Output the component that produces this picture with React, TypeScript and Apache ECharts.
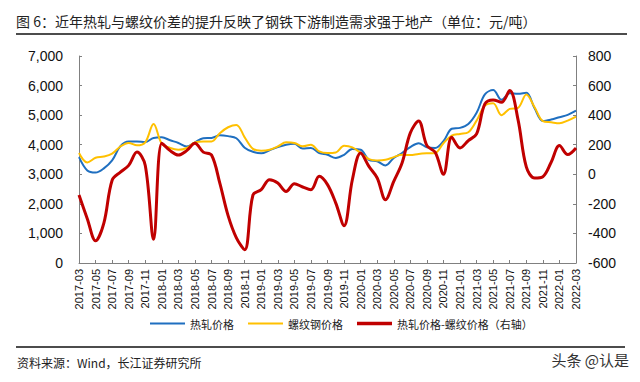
import React, { useEffect, useRef } from "react";
import * as echarts from "echarts";

const months: string[] = [];
for (let y = 2017, m = 3; y < 2022 || (y === 2022 && m <= 3); ) {
  months.push(`${y}-${String(m).padStart(2, "0")}`);
  m++;
  if (m > 12) {
    m = 1;
    y++;
  }
}

const hotRolled = [
  3580, 3130, 3060, 3200, 3470, 3950, 4110, 4110, 4090, 4230,
  4250, 4150, 4060, 3940, 4080, 4220, 4230, 4320, 4290, 4220,
  3900, 3760, 3710, 3810, 3920, 4000, 4030, 3870, 3890, 3720,
  3660, 3550, 3660, 3855, 3830, 3490, 3440, 3300, 3550, 3720,
  3920, 4050, 3915, 3890, 4120, 4540, 4570, 4700, 5080, 5700,
  5850, 5520, 5740, 5720, 5760, 5230, 4800, 4850, 4930, 5010,
  5150,
];

const rebar = [
  3720, 3400, 3560, 3600, 3700, 3940, 4060, 3980, 4080, 4700,
  4030, 3890, 3830, 3890, 4080, 4110, 4110, 4390, 4590, 4670,
  4250, 3860, 3800, 3830, 3945, 4080, 4060, 3945, 4000, 3775,
  3720, 3740, 3966, 3910, 3720, 3515, 3470, 3490, 3580, 3660,
  3650, 3690, 3710, 3720, 4050, 4310, 4365, 4420, 4815, 5320,
  5400, 5000, 5210, 5245, 5695, 5270, 4800, 4760, 4725, 4815,
  4950,
];

const spread = [
  -140, -300, -450, -330, -40, 15, 60, 150, 60, -440,
  210, 160, 130, 160, 210, 150, 130, -60, -280, -430,
  -510, -140, -104, -37, -59, -116, -64, -86, -104, -14,
  -70, -195, -348, -37, 144, 53, -25, -172, -48, 76,
  280, 360, 194, 149, 0, 250, 178, 228, 273, 476,
  503, 487, 566, 370, 50, -25, -16, 81, 194, 133,
  178,
];

const leftTicks = { min: 0, max: 7000, interval: 1000 };
const rightTicks = { min: -600, max: 800, interval: 200 };

const seriesNames = ["热轧价格", "螺纹钢价格", "热轧价格-螺纹价格（右轴）"];

const titleText = "图 6：近年热轧与螺纹价差的提升反映了钢铁下游制造需求强于地产（单位：元/吨）";
const sourceText = "资料来源：Wind，长江证券研究所";
const watermarkText = "头条 @认是";

const FONT = "'Liberation Sans', Arial, 'Noto Sans CJK SC', sans-serif";
const CJK = "'Noto Sans CJK SC', 'Liberation Sans', sans-serif";

export default function App() {
  const ref = useRef<HTMLDivElement>(null);

  useEffect(() => {
    document.body.style.margin = "0";
    if (!ref.current) return;
    const chart = echarts.init(ref.current, undefined, { renderer: "svg" });
    const axisColor = "#808080";
    const thin = "path://M0,0H35V2H0Z";
    const thick = "path://M0,0H35V3.5H0Z";
    chart.setOption({
      animation: false,
      backgroundColor: "#ffffff",
      textStyle: { fontFamily: FONT },
      grid: { left: 79, right: 64, top: 56, bottom: 119, containLabel: false },
      legend: {
        left: 145,
        top: 313,
        itemWidth: 35,
        itemHeight: 10,
        itemGap: 14,
        symbolKeepAspect: true,
        textStyle: { fontSize: 11, color: "#222", fontFamily: CJK },
        data: [
          { name: seriesNames[0], icon: thin },
          { name: seriesNames[1], icon: thin },
          { name: seriesNames[2], icon: thick },
        ],
      },
      xAxis: {
        type: "category",
        data: months,
        boundaryGap: false,
        axisLine: { lineStyle: { color: axisColor, width: 1 } },
        axisTick: { inside: true, length: 3, interval: 1, lineStyle: { color: axisColor } },
        axisLabel: {
          interval: 1,
          rotate: 90,
          fontSize: 11,
          color: "#111",
          margin: 6,
          fontFamily: FONT,
        },
        splitLine: { show: false },
      },
      yAxis: [
        {
          type: "value",
          min: leftTicks.min,
          max: leftTicks.max,
          interval: leftTicks.interval,
          axisLine: { show: true, lineStyle: { color: axisColor } },
          axisTick: { show: true, inside: true, length: 3, lineStyle: { color: axisColor } },
          axisLabel: {
            fontSize: 14,
            color: "#111",
            margin: 16,
            formatter: (v: number) => v.toLocaleString("en-US"),
          },
          splitLine: { show: false },
        },
        {
          type: "value",
          min: rightTicks.min,
          max: rightTicks.max,
          interval: rightTicks.interval,
          position: "right",
          axisLine: { show: true, lineStyle: { color: axisColor } },
          axisTick: { show: true, inside: true, length: 3, lineStyle: { color: axisColor } },
          axisLabel: { fontSize: 14, color: "#111", margin: 12 },
          splitLine: { show: false },
        },
      ],
      series: [
        {
          name: seriesNames[0],
          type: "line",
          data: hotRolled,
          smooth: 0.35,
          symbol: "none",
          lineStyle: { color: "#1f6fc0", width: 2 },
          itemStyle: { color: "#1f6fc0" },
        },
        {
          name: seriesNames[1],
          type: "line",
          data: rebar,
          smooth: 0.35,
          symbol: "none",
          lineStyle: { color: "#ffc000", width: 2 },
          itemStyle: { color: "#ffc000" },
        },
        {
          name: seriesNames[2],
          type: "line",
          yAxisIndex: 1,
          data: spread,
          smooth: 0.35,
          symbol: "none",
          lineStyle: { color: "#c00000", width: 3 },
          itemStyle: { color: "#c00000" },
        },
      ],
      graphic: [
        {
          type: "text",
          left: 16,
          top: 14,
          style: { text: titleText, fontSize: 14, fill: "#222", fontFamily: CJK },
        },
        {
          type: "line",
          shape: { x1: 16, y1: 34, x2: 627, y2: 34 },
          style: { stroke: "#111", lineWidth: 1.5 },
        },
        {
          type: "line",
          shape: { x1: 16, y1: 347, x2: 625, y2: 347 },
          style: { stroke: "#111", lineWidth: 1.5 },
        },
        {
          type: "text",
          left: 17,
          top: 356,
          style: { text: sourceText, fontSize: 12, fill: "#222", fontFamily: CJK },
        },
        {
          type: "text",
          right: 11,
          top: 352,
          style: { text: watermarkText, fontSize: 15, fill: "#333", fontFamily: CJK },
        },
      ],
    });
    return () => chart.dispose();
  }, []);

  return (
    <div
      ref={ref}
      style={{ position: "fixed", left: 0, top: 0, width: 640, height: 382 }}
    />
  );
}
